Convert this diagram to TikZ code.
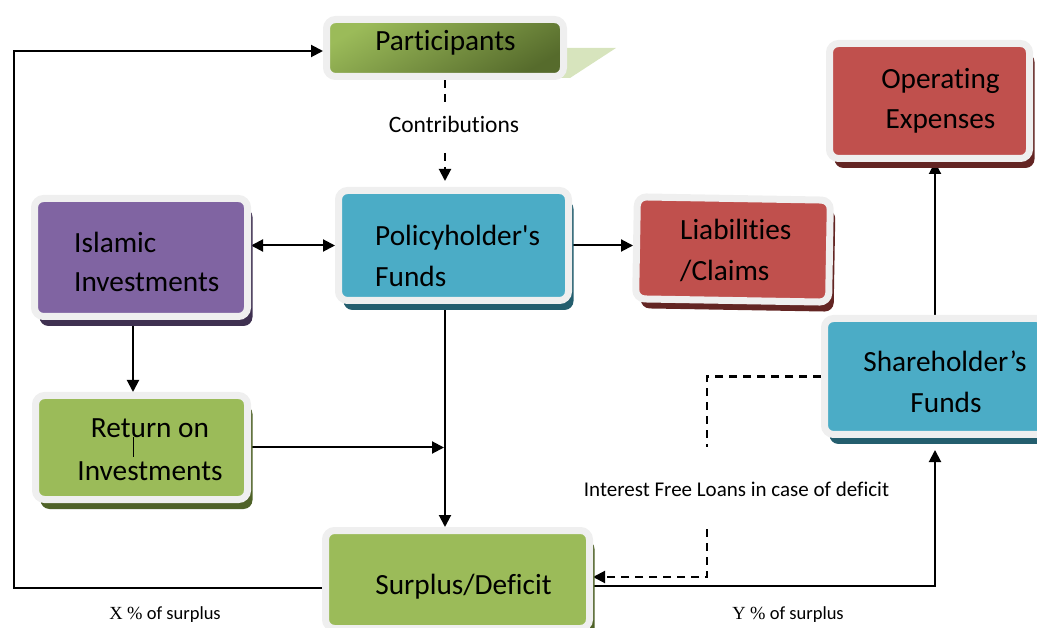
\documentclass[tikz,border=0pt]{standalone}
\usepackage{fontspec}
\setmainfont{Carlito}
\newfontfamily\calib{Carlito}[Ligatures=CommonOff]
\newfontfamily\timesx{Liberation Serif}
\usetikzlibrary{arrows.meta,shadows}
\pgfdeclarelayer{bg}
\pgfsetlayers{bg,main}
\definecolor{tealF}{HTML}{4BACC6}
\definecolor{tealS}{HTML}{245E6E}
\definecolor{purpF}{HTML}{8064A2}
\definecolor{purpS}{HTML}{3F3151}
\definecolor{redF}{HTML}{C0504D}
\definecolor{redS}{HTML}{632523}
\definecolor{grnF}{HTML}{9BBB59}
\definecolor{grnS}{HTML}{4F6228}
\definecolor{grnL}{HTML}{D7E4BD}
\definecolor{grnD}{HTML}{566B2C}
\definecolor{rim}{HTML}{EFEFEF}
\tikzset{
  box/.style={rectangle, rounded corners=9pt, draw=rim, line width=7pt, inner sep=0pt},
  shad/.style={drop shadow={shadow xshift=5pt, shadow yshift=-9.5pt, fill=#1, opacity=1}},
  lbl/.style={anchor=base, inner sep=0pt, font=\calib\fontsize{29.3}{35}\selectfont},
  lblw/.style={lbl, anchor=base west},
  conn/.style={line width=2pt, draw=black},
  arr/.style={conn, -{Triangle[length=12pt,width=12pt]}},
  dsh/.style={line width=2.4pt, dash pattern=on 8pt off 6pt},
}
\begin{document}
\begin{tikzpicture}[x=1pt,y=-1pt]
\useasboundingbox (0,0) rectangle (1037,628);
\clip (0,0) rectangle (1037,628);
% boxes
\fill[grnL] (550,48) -- (616,48) -- (570,78) -- (550,78) -- cycle;
\node[box, minimum width=237pt, minimum height=57pt, top color=grnF, bottom color=grnD, shading angle=30] (part) at (445,48) {};
\node[box, shad=tealS, fill=tealF, minimum width=230pt, minimum height=110pt] (pf) at (453.5,245.5) {};
\node[box, shad=purpS, fill=purpF, minimum width=213pt, minimum height=118pt] (isl) at (141,257.5) {};
\node[box, shad=redS, fill=redF, minimum width=193pt, minimum height=102pt, rotate=-1] (liab) at (733,249.5) {};
\node[box, shad=redS, fill=redF, minimum width=200pt, minimum height=115pt] (op) at (929.5,101) {};
\node[box, shad=grnS, fill=grnF, minimum width=212pt, minimum height=104pt] (ret) at (141.5,447.5) {};
\node[box, shad=tealS, fill=tealF, minimum width=221pt, minimum height=116pt] (sh) at (935,376.5) {};
\node[box, shad=grnS, fill=grnF, minimum width=264pt, minimum height=98pt] (sur) at (457.5,579.5) {};
% texts
\node[lbl] (partT) at (445.5,51) {Participants};
\node[lblw] (pfT1) at (375,246) {Policyholder's};
\node[lblw] (pfT2) at (375,287) {Funds};
\node[lblw] (islT1) at (74,253) {Islamic};
\node[lblw] (islT2) at (74,292) {Investments};
\node[lblw] (liabT1) at (680,240) {Liabilities};
\node[lblw] (liabT2) at (680,281) {/Claims};
\node[lbl] (opT1) at (940.5,89) {Operating};
\node[lbl] (opT2) at (940.5,129) {Expenses};
\node[lbl] (retT1) at (150,438) {Return on};
\node[lbl] (retT2) at (150,480) {Investments};
\node[lbl] (shT1) at (945,372) {Shareholder’s};
\node[lbl] (shT2) at (946,413) {Funds};
\node[lbl] (surT) at (463.5,594) {Surplus/Deficit};
\node[lbl, font=\calib\fontsize{23.5}{28}\selectfont] (contr) at (454,133) {Contributions};
\node[lbl, font=\calib\fontsize{21}{25}\selectfont] (loans) at (736.5,496) {Interest Free Loans in case of deficit};
\node[lbl, font=\calib\fontsize{18.5}{22}\selectfont] (xs) at (165,619) {{\timesx X \%} of surplus};
\node[lbl, font=\calib\fontsize{18.5}{22}\selectfont] (ys) at (788,619) {{\timesx Y \%} of surplus};
\draw[line width=1pt] (133,437) -- (133,457);
% connectors
\begin{pgfonlayer}{bg}
\coordinate (lc) at (14,51);
\draw[arr] ([yshift=-8.5pt]sur.west) -| (lc) -- ([yshift=-3pt]part.west);
\coordinate (c1) at (445,104);
\coordinate (c2) at (445,153);
\draw[dsh] (part.south) -- (c1);
\draw[dsh, arr, shorten >=6pt] (c2) -- (pf.north -| c2);
\draw[conn, {Triangle[length=12pt,width=12pt]}-{Triangle[length=12pt,width=12pt]}] (pf.west -| isl.east) -- (pf.west);
\draw[arr] (pf.east) -- (pf.east -| liab.west);
\draw[arr] ([xshift=-8.5pt]pf.south) -- ([xshift=-8.5pt]pf.south |- sur.north);
\draw[arr] ([xshift=-8pt]isl.south) -- ([xshift=-8pt]isl.south |- ret.north);
\draw[arr, shorten >=1pt] (ret.east) -- ([xshift=-8.5pt]pf.south |- ret.east);
\draw[arr] (sh.north) -- (sh.north |- op.south);
\draw[arr, shorten >=12pt] ([yshift=-6.5pt]sur.east) -| (sh.south);
\coordinate (d1) at (707,447);
\coordinate (d2) at (707,529);
\draw[dsh] (sh.west) -| (d1);
\draw[dsh, arr] (d2) |- ([yshift=2.5pt]sur.east);
\end{pgfonlayer}
\end{tikzpicture}
\end{document}
